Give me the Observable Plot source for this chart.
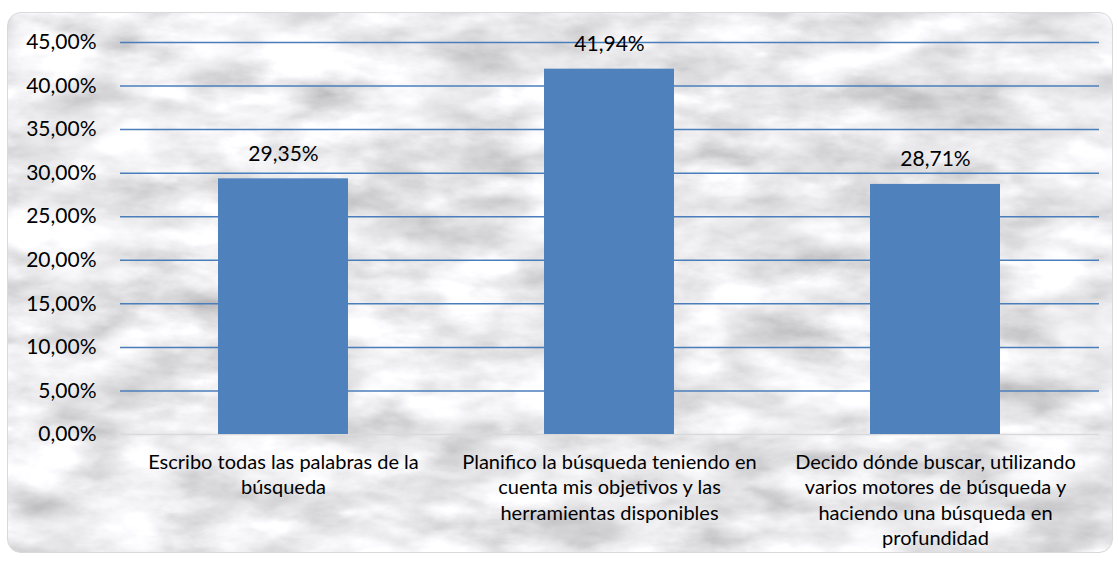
<!DOCTYPE html>
<html>
<head>
<meta charset="utf-8">
<script src="https://cdn.jsdelivr.net/npm/d3@7"></script>
<script src="https://cdn.jsdelivr.net/npm/@observablehq/plot@0.6"></script>
<style>
  html, body { margin: 0; padding: 0; background: #ffffff; width: 1118px; height: 562px; overflow: hidden; }
  #frame {
    position: absolute; left: 7px; top: 12px; width: 1104px; height: 539px;
    border: 1px solid #d9d9d9; border-radius: 14px; overflow: hidden;
    background-color: #e6e6e8;
    background-image: url("data:image/svg+xml;utf8,<svg xmlns='http://www.w3.org/2000/svg' width='1104' height='539'><filter id='m' x='0' y='0' width='100%' height='100%'><feTurbulence type='fractalNoise' baseFrequency='0.012 0.03' numOctaves='5' seed='3' result='a'/><feTurbulence type='turbulence' baseFrequency='0.006 0.012' numOctaves='4' seed='11' result='b'/><feComposite in='a' in2='b' operator='arithmetic' k1='0' k2='0.6' k3='0.5' k4='0'/><feColorMatrix type='matrix' values='1.0 0 0 0 0.38  1.0 0 0 0 0.38  1.0 0 0 0 0.40  0 0 0 0 1'/></filter><rect width='100%' height='100%' filter='url(%23m)'/></svg>");
  }
  #chart { position: absolute; left: 0; top: 0; }
</style>
</head>
<body>
<div id="frame"><div id="chart"></div></div>
<script>
const categories = [
  "Escribo todas las palabras de la búsqueda",
  "Planifico la búsqueda teniendo en cuenta mis objetivos y las herramientas disponibles",
  "Decido dónde buscar, utilizando varios motores de búsqueda y haciendo una búsqueda en profundidad"
];
const categoryLabels = [
  "Escribo todas las palabras de la\nbúsqueda",
  "Planifico la búsqueda teniendo en\ncuenta mis objetivos y las\nherramientas disponibles",
  "Decido dónde buscar, utilizando\nvarios motores de búsqueda y\nhaciendo una búsqueda en\nprofundidad"
];
const values = [29.35, 41.94, 28.71];
const yTicks = [0, 5, 10, 15, 20, 25, 30, 35, 40, 45];

const data = categories.map((c, i) => ({ cat: c, value: values[i] }));
const fmt = v => v.toFixed(2).replace(".", ",") + "%";
const labelOf = new Map(categories.map((c, i) => [c, categoryLabels[i]]));

const chart = Plot.plot({
  width: 1104,
  height: 539,
  marginLeft: 112,
  marginRight: 13,
  marginTop: 29,
  marginBottom: 118,
  style: { background: "transparent", fontFamily: "Lato, 'Open Sans', sans-serif", fontSize: "20px", color: "#000" },
  x: { domain: categories, paddingInner: 0.6, paddingOuter: 0.3, label: null },
  y: { domain: [0, 45], label: null },
  marks: [
    Plot.ruleY(yTicks.filter(t => t > 0), { stroke: "#4a7ebb", strokeWidth: 1.5 }),
    Plot.ruleY([0], { stroke: "#d9d9d9", strokeWidth: 1.5 }),
    Plot.barY(data, { x: "cat", y: "value", fill: "#4f81bd" }),
    Plot.text(data, { x: "cat", y: "value", text: d => fmt(d.value), dy: -25, fill: "#000", fontSize: 21 }),
    Plot.axisY({ ticks: yTicks, tickFormat: fmt, tickSize: 0, tickPadding: 24, fontSize: 21, fill: "#000", label: null }),
    Plot.axisX({ tickFormat: d => labelOf.get(d), tickSize: 0, tickPadding: 16, fontSize: 20, lineHeight: 1.275, fill: "#000", label: null, textOverflow: null })
  ]
});
document.getElementById("chart").appendChild(chart);
</script>
</body>
</html>
